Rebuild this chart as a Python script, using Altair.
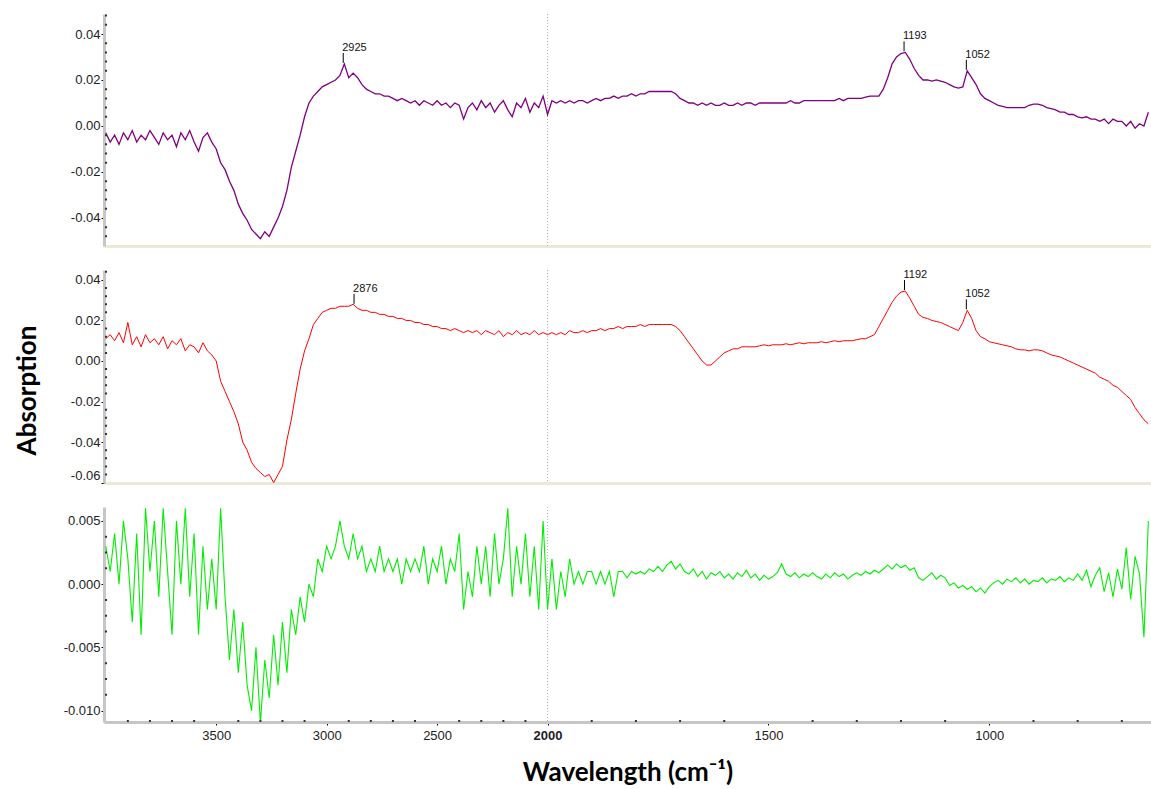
import altair as alt
import pandas as pd

# ---------------- data ----------------
WN_HIGH = list(range(4000, 1999, -20))   # 4000 ... 2000 cm-1
WN_LOW = list(range(1990, 639, -10))     # 1990 ... 640 cm-1
WAVENUMBER = WN_HIGH + WN_LOW

PURPLE = [
    # 4000-3520
    -0.003, -0.007, -0.004, -0.008, -0.003, -0.006, -0.002, -0.007, -0.004, -0.006,
    -0.002, -0.005, -0.008, -0.003, -0.006, -0.004, -0.009, -0.003, -0.006, -0.002,
    -0.007, -0.011, -0.005, -0.003, -0.007,
    # 3500-3100
    -0.010, -0.016, -0.019, -0.024, -0.028, -0.034, -0.038, -0.041, -0.045, -0.047,
    -0.049, -0.046, -0.048, -0.044, -0.040, -0.035, -0.028, -0.018, -0.011, -0.004, 0.004,
    # 3080-2000
    0.010, 0.013, 0.015, 0.017, 0.018, 0.019, 0.020, 0.022, 0.027, 0.021,
    0.023, 0.021, 0.018, 0.016, 0.015, 0.014, 0.014, 0.013, 0.013, 0.012,
    0.011, 0.012, 0.011, 0.010, 0.011, 0.009, 0.011, 0.010, 0.009, 0.011,
    0.009, 0.010, 0.008, 0.010, 0.009, 0.003, 0.008, 0.010, 0.007, 0.011,
    0.008, 0.010, 0.006, 0.009, 0.011, 0.007, 0.004, 0.010, 0.008, 0.012,
    0.006, 0.010, 0.008, 0.013, 0.005,
    # 1990-640
    0.011, 0.010, 0.011, 0.010, 0.011, 0.010, 0.011, 0.011, 0.010, 0.011,
    0.012, 0.011, 0.012, 0.012, 0.013, 0.012, 0.013, 0.013, 0.014, 0.013,
    0.014, 0.014, 0.015, 0.015, 0.015, 0.015, 0.015, 0.015, 0.014, 0.012,
    0.011, 0.010, 0.010, 0.009, 0.010, 0.009, 0.010, 0.009, 0.009, 0.010,
    0.009, 0.009, 0.010, 0.009, 0.010, 0.010, 0.009, 0.010, 0.010, 0.010,
    0.010, 0.010, 0.010, 0.010, 0.011, 0.010, 0.010, 0.011, 0.011, 0.011,
    0.011, 0.011, 0.011, 0.011, 0.011, 0.012, 0.011, 0.012, 0.012, 0.012,
    0.012, 0.0125, 0.013, 0.013, 0.013, 0.016, 0.021, 0.027, 0.030, 0.0315,
    0.032, 0.029, 0.025, 0.022, 0.020, 0.020, 0.0195, 0.020, 0.0195, 0.019,
    0.018, 0.017, 0.0165, 0.017, 0.024, 0.021, 0.018, 0.014, 0.012, 0.011,
    0.010, 0.009, 0.0085, 0.008, 0.008, 0.008, 0.008, 0.008, 0.009, 0.0095,
    0.0095, 0.009, 0.008, 0.0075, 0.007, 0.006, 0.006, 0.005, 0.005, 0.004,
    0.0035, 0.004, 0.003, 0.003, 0.002, 0.003, 0.001, 0.003, 0.002, 0.002,
    0.000, 0.002, -0.001, 0.001, 0.000, 0.006,
]

RED = [
    # 4000-3520
    0.011, 0.013, 0.010, 0.014, 0.009, 0.019, 0.008, 0.012, 0.007, 0.013,
    0.009, 0.011, 0.008, 0.012, 0.006, 0.010, 0.008, 0.011, 0.005, 0.008,
    0.007, 0.004, 0.009, 0.005, 0.003,
    # 3500-3100
    0.000, -0.010, -0.015, -0.020, -0.025, -0.031, -0.040, -0.044, -0.050, -0.053,
    -0.055, -0.057, -0.056, -0.060, -0.056, -0.052, -0.039, -0.029, -0.016, -0.004, 0.005,
    # 3080-2000
    0.011, 0.018, 0.021, 0.024, 0.025, 0.026, 0.026, 0.027, 0.027, 0.027,
    0.028, 0.026, 0.025, 0.025, 0.024, 0.024, 0.023, 0.023, 0.022, 0.022,
    0.021, 0.021, 0.020, 0.020, 0.019, 0.019, 0.018, 0.018, 0.017, 0.017,
    0.016, 0.016, 0.015, 0.016, 0.015, 0.014, 0.015, 0.014, 0.015, 0.013,
    0.015, 0.014, 0.013, 0.015, 0.012, 0.014, 0.013, 0.015, 0.013, 0.014,
    0.013, 0.015, 0.013, 0.014, 0.013,
    # 1990-640
    0.014, 0.013, 0.014, 0.013, 0.015, 0.014, 0.014, 0.015, 0.014, 0.015,
    0.015, 0.016, 0.015, 0.016, 0.016, 0.017, 0.016, 0.017, 0.017, 0.017,
    0.018, 0.017, 0.018, 0.018, 0.018, 0.018, 0.018, 0.018, 0.017, 0.015,
    0.012, 0.009, 0.006, 0.003, 0.000, -0.002, -0.002, 0.000, 0.002, 0.004,
    0.005, 0.006, 0.006, 0.007, 0.007, 0.007, 0.007, 0.0075, 0.008, 0.0075,
    0.008, 0.008, 0.008, 0.0085, 0.008, 0.0085, 0.009, 0.0085, 0.009, 0.009,
    0.009, 0.0095, 0.009, 0.0095, 0.010, 0.0095, 0.010, 0.010, 0.010, 0.0105,
    0.011, 0.011, 0.012, 0.013, 0.017, 0.021, 0.025, 0.029, 0.032, 0.034,
    0.0345, 0.031, 0.027, 0.023, 0.0215, 0.021, 0.020, 0.0195, 0.019, 0.018,
    0.017, 0.016, 0.015, 0.019, 0.025, 0.021, 0.015, 0.012, 0.011, 0.0095,
    0.009, 0.0085, 0.008, 0.0075, 0.007, 0.006, 0.0055, 0.0055, 0.005, 0.0055,
    0.0055, 0.005, 0.004, 0.003, 0.0025, 0.002, 0.001, 0.000, -0.001, -0.002,
    -0.003, -0.004, -0.005, -0.006, -0.008, -0.009, -0.010, -0.012, -0.013, -0.015,
    -0.017, -0.019, -0.023, -0.026, -0.029, -0.031,
]

GREEN = [
    # 4000-3520
    0.003, 0.001, 0.004, 0.000, 0.005, 0.002, -0.003, 0.004, -0.004, 0.006,
    0.001, 0.005, -0.001, 0.006, 0.001, -0.004, 0.005, 0.000, 0.006, -0.001,
    0.004, -0.004, 0.003, -0.002, 0.002,
    # 3500-3100
    -0.002, 0.006, -0.001, -0.006, -0.002, -0.007, -0.003, -0.008, -0.010, -0.005,
    -0.011, -0.006, -0.009, -0.004, -0.008, -0.003, -0.007, -0.002, -0.004, -0.001, -0.003,
    # 3080-2000
    0.000, -0.001, 0.002, 0.001, 0.003, 0.002, 0.003, 0.005, 0.003, 0.002,
    0.004, 0.002, 0.003, 0.001, 0.002, 0.001, 0.003, 0.001, 0.002, 0.001,
    0.002, 0.000, 0.002, 0.001, 0.002, 0.001, 0.003, 0.000, 0.002, 0.001,
    0.003, 0.000, 0.002, 0.001, 0.004, -0.002, 0.001, -0.001, 0.003, 0.000,
    0.003, -0.001, 0.004, 0.000, 0.002, 0.006, -0.001, 0.003, 0.000, 0.004,
    -0.001, 0.003, -0.002, 0.005, -0.002,
    # 1990-640
    0.002, -0.002, 0.001, -0.001, 0.002, 0.000, 0.001, 0.000, 0.001, 0.001,
    0.000, 0.001, 0.000, 0.001, -0.001, 0.001, 0.001, 0.0005, 0.001, 0.0008,
    0.001, 0.0008, 0.0012, 0.001, 0.0014, 0.001, 0.0015, 0.0018, 0.0012, 0.0016,
    0.001, 0.0008, 0.0012, 0.0006, 0.001, 0.0004, 0.0009, 0.0007, 0.001, 0.0005,
    0.0008, 0.0004, 0.0009, 0.0006, 0.0011, 0.0005, 0.0008, 0.0003, 0.0007, 0.0004,
    0.0006, 0.0009, 0.0016, 0.0008, 0.0006, 0.0009, 0.0005, 0.0008, 0.0006, 0.0009,
    0.0006, 0.0004, 0.0008, 0.0005, 0.0009, 0.0006, 0.0008, 0.0004, 0.0007, 0.0009,
    0.0007, 0.001, 0.0008, 0.0011, 0.0009, 0.0012, 0.0015, 0.0012, 0.0016, 0.0013,
    0.0015, 0.0011, 0.0013, 0.0005, 0.0003, 0.0006, 0.0009, 0.0004, 0.0007, 0.0005,
    -0.0001, 0.0001, -0.0003, -0.0001, -0.0004, -0.0002, -0.0006, -0.0003, -0.0007, -0.0002,
    0.0001, 0.0003, 0.0000, 0.0004, 0.0002, 0.0005, 0.0001, 0.0004, 0.0000, 0.0003,
    0.0002, 0.0005, 0.0001, 0.0004, 0.0003, 0.0006, 0.0002, 0.0005, 0.0003, 0.0008,
    0.0003, 0.0011, -0.0002, 0.0007, 0.0013, -0.0006, 0.0009, -0.0010, 0.0012, -0.0004,
    0.0029, -0.0012, 0.0022, 0.0008, -0.0042, 0.0050,
]

assert len(PURPLE) == len(WAVENUMBER) == len(RED) == len(GREEN)

PEAKS_TOP_WN = [2925, 1193, 1052]
PEAKS_TOP_VAL = [0.027, 0.032, 0.024]
PEAKS_MID_WN = [2876, 1192, 1052]
PEAKS_MID_VAL = [0.0277, 0.0345, 0.025]

X_MAJOR = [3500, 3000, 2500, 2000, 1500, 1000]
X_MINOR = [3900, 3800, 3700, 3600, 3400, 3300, 3200, 3100, 2900, 2800, 2700, 2600,
           2400, 2300, 2200, 2100, 1900, 1800, 1700, 1600, 1400, 1300, 1200, 1100,
           900, 800, 700]

Y1_MAJOR = [-0.04, -0.02, 0.0, 0.02, 0.04]
Y1_MINOR = [-0.048, -0.044, -0.036, -0.032, -0.028, -0.024, -0.016, -0.012, -0.008, -0.004,
            0.004, 0.008, 0.012, 0.016, 0.024, 0.028, 0.032, 0.036, 0.044, 0.048]
Y2_MAJOR = [-0.06, -0.04, -0.02, 0.0, 0.02, 0.04]
Y2_MINOR = [-0.056, -0.052, -0.048, -0.044, -0.036, -0.032, -0.028, -0.024, -0.016, -0.012,
            -0.008, -0.004, 0.004, 0.008, 0.012, 0.016, 0.024, 0.028, 0.032, 0.036, 0.044]
Y3_MAJOR = [-0.010, -0.005, 0.0, 0.005]
Y3_MINOR = [-0.00875, -0.0075, -0.00625, -0.00375, -0.0025, -0.00125,
            0.00125, 0.0025, 0.00375]

# ---------------- chart ----------------
# spectrometer-style axis: region above 2000 cm-1 is drawn at half scale
U_EXPR = "datum.wn <= 2000 ? datum.wn : 2000 + (datum.wn - 2000) / 2"


def to_u(w):
    return w if w <= 2000 else 2000 + (w - 2000) / 2


W = 1047
X_SCALE = alt.Scale(domain=[634, 3004], reverse=True, nice=False, zero=False)
MINUS = "\u2212"


def spectrum_df(values):
    return pd.DataFrame({"wn": WAVENUMBER, "v": values})


def make_panel(values, color, stroke_w, ydomain, yticks, yfmt, yminor, height,
               peaks_wn=None, peaks_val=None, bottom=False, ytitle=None,
               title_y=None, flush=False):
    yaxis_kw = dict(
        values=yticks,
        labelExpr=f"replace(format(datum.value, '{yfmt}'), '{MINUS}', '-')",
        grid=False, domainColor="#c6c6c6", domainWidth=3,
        tickColor="#000000", tickSize=3, tickWidth=1, labelPadding=1,
    )
    if ytitle:
        yaxis_kw.update(title=ytitle, titlePadding=30)
        if title_y is not None:
            yaxis_kw.update(titleY=title_y)
    else:
        yaxis_kw.update(title=None)
    if flush:
        yaxis_kw.update(labelFlush=4)
    yaxis = alt.Axis(**yaxis_kw)

    if bottom:
        xaxis = alt.Axis(
            values=[to_u(w) for w in X_MAJOR],
            labelExpr="datum.value > 2000 ? format(2000 + (datum.value - 2000) * 2, 'd') : format(datum.value, 'd')",
            labelFontWeight={"condition": {"test": "datum.value == 2000", "value": "bold"},
                             "value": "normal"},
            grid=False, domainColor="#c6c6c6", domainWidth=3,
            tickColor="#000000", tickSize=3, tickWidth=1, labelPadding=4,
            title="Wavelength (cm\u207b\u00b9)", titlePadding=17,
        )
    else:
        xaxis = alt.Axis(labels=False, ticks=False, grid=False, title=None,
                         domainColor="#ECE9D8", domainWidth=3)

    X = alt.X("u:Q", scale=X_SCALE, axis=xaxis)
    Y = alt.Y("v:Q", scale=alt.Scale(domain=ydomain, nice=False, zero=False), axis=yaxis)

    layers = []
    layers.append(
        alt.Chart(pd.DataFrame({"wn": [2000]}))
        .transform_calculate(u=U_EXPR)
        .mark_rule(color="#b0b0b0", strokeDash=[1, 2], strokeWidth=1)
        .encode(x=X)
    )
    layers.append(
        alt.Chart(spectrum_df(values))
        .transform_calculate(u=U_EXPR)
        .mark_line(color=color, strokeWidth=stroke_w, clip=True)
        .encode(x=X, y=Y)
    )
    layers.append(
        alt.Chart(pd.DataFrame({"v": yminor}))
        .mark_rule(color="#333333", strokeWidth=2)
        .encode(y=Y, x=alt.value(1), x2=alt.value(3))
    )
    if bottom:
        layers.append(
            alt.Chart(pd.DataFrame({"wn": X_MINOR}))
            .transform_calculate(u=U_EXPR)
            .mark_rule(color="#333333", strokeWidth=2)
            .encode(x=X, y=alt.value(height - 2), y2=alt.value(height))
        )
    if peaks_wn:
        pdf = pd.DataFrame({"wn": peaks_wn, "v": peaks_val,
                            "label": [str(w) for w in peaks_wn]})
        layers.append(
            alt.Chart(pdf).transform_calculate(u=U_EXPR)
            .mark_rule(color="#000000", strokeWidth=1, yOffset=-1, y2Offset=-11)
            .encode(x=X, y=Y, y2=alt.Y2("v:Q"))
        )
        layers.append(
            alt.Chart(pdf).transform_calculate(u=U_EXPR)
            .mark_text(align="left", baseline="alphabetic", dx=-1, dy=-13,
                       font="Liberation Sans", fontSize=11, color="#111111")
            .encode(x=X, y=Y, text="label:N")
        )
    return alt.layer(*layers).properties(width=W, height=height)


p1 = make_panel(PURPLE, "#800080", 1.3, [-0.0522, 0.0487], Y1_MAJOR, ".2f", Y1_MINOR, 232,
                PEAKS_TOP_WN, PEAKS_TOP_VAL)
p2 = make_panel(RED, "#ff0000", 1.0, [-0.0602, 0.0449], Y2_MAJOR, ".2f", Y2_MINOR, 213,
                PEAKS_MID_WN, PEAKS_MID_VAL, ytitle="Absorption", title_y=120, flush=True)
p3 = make_panel(GREEN, "#00ee00", 1.1, [-0.0109, 0.0061], Y3_MAJOR, ".3f", Y3_MINOR, 215,
                bottom=True)

chart = (
    alt.vconcat(p1, p2, p3, spacing=22)
    .properties(padding={"left": 14, "top": 13, "right": 0, "bottom": 0},
                background="#ffffff")
    .configure_view(strokeOpacity=0)
    .configure_axis(labelFont="Liberation Sans", labelFontSize=13, labelColor="#222222",
                    titleFont="Lato", titleFontSize=26, titleFontWeight="bold",
                    titleColor="#000000")
)

chart.save("out.html", embed_options={"renderer": "svg", "actions": False})
